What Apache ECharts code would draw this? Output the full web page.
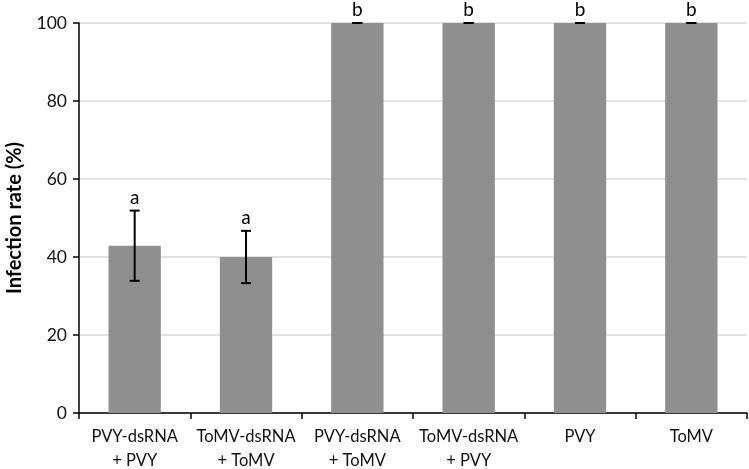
<!DOCTYPE html>
<html><head><meta charset="utf-8">
<script src="https://cdn.jsdelivr.net/npm/echarts@6/dist/echarts.min.js"></script>
<style>html,body{margin:0;padding:0;background:#fff}#c{width:749px;height:469px}</style>
</head><body><div id="c"></div>
<script>
const categories = ['PVY-dsRNA\n+ PVY', 'ToMV-dsRNA\n+ ToMV', 'PVY-dsRNA\n+ ToMV', 'ToMV-dsRNA\n+ PVY', 'PVY', 'ToMV'];
const infectionRate = [42.9, 40, 100, 100, 100, 100];
const errorLow = [33.9, 33.3, 100, 100, 100, 100];
const errorHigh = [51.9, 46.7, 100, 100, 100, 100];
const letters = ['a', 'a', 'b', 'b', 'b', 'b'];
const yTicks = [0, 20, 40, 60, 80, 100];

const FONT = 'Lato, "Open Sans", sans-serif';
const chart = echarts.init(document.getElementById('c'));
const errData = categories.map((c, i) => [i, errorLow[i], errorHigh[i], letters[i]]);
chart.setOption({
  animation: false,
  backgroundColor: '#fff',
  grid: { left: 79, right: 2, top: 23, bottom: 56, containLabel: false, outerBoundsMode: 'none' },
  xAxis: {
    type: 'category', data: categories,
    axisLine: { lineStyle: { color: '#000', width: 1.5 } },
    axisTick: { show: true, alignWithLabel: false, interval: 0, length: 6, lineStyle: { color: '#000', width: 1.5 } },
    axisLabel: { interval: 0, color: '#111', fontFamily: FONT, fontSize: 16.5, lineHeight: 24, margin: 12 }
  },
  yAxis: {
    type: 'value', min: yTicks[0], max: yTicks[yTicks.length - 1], interval: 20,
    name: 'Infection rate (%)', nameLocation: 'middle', nameGap: 54,
    nameTextStyle: { color: '#000', fontWeight: 'bold', fontSize: 20, fontFamily: FONT },
    axisLine: { show: true, lineStyle: { color: '#000', width: 1.5 } },
    axisTick: { show: true, length: 6, lineStyle: { color: '#000', width: 1.5 } },
    axisLabel: { color: '#111', fontSize: 17.5, fontFamily: FONT, margin: 12 },
    splitLine: { lineStyle: { color: '#d9d9d9', width: 1.5 } }
  },
  series: [
    {
      type: 'bar', data: infectionRate, barWidth: '47%',
      itemStyle: { color: '#8f8f8f' }, z: 2
    },
    {
      type: 'custom', z: 5, data: errData,
      renderItem: function (params, api) {
        const x = api.coord([api.value(0), 0])[0];
        const lo = api.coord([api.value(0), api.value(1)])[1];
        const hi = api.coord([api.value(0), api.value(2)])[1];
        const cap = 5;
        const st = { stroke: '#000', lineWidth: 2 };
        return {
          type: 'group', children: [
            { type: 'line', shape: { x1: x, y1: lo, x2: x, y2: hi }, style: st },
            { type: 'line', shape: { x1: x - cap, y1: lo, x2: x + cap, y2: lo }, style: st },
            { type: 'line', shape: { x1: x - cap, y1: hi, x2: x + cap, y2: hi }, style: st },
            { type: 'text', style: { text: api.value(3), x: x, y: hi - 13, textAlign: 'center', textVerticalAlign: 'middle', fill: '#000', font: '19px Lato, "Open Sans", sans-serif' } }
          ]
        };
      }
    }
  ]
});
</script></body></html>
